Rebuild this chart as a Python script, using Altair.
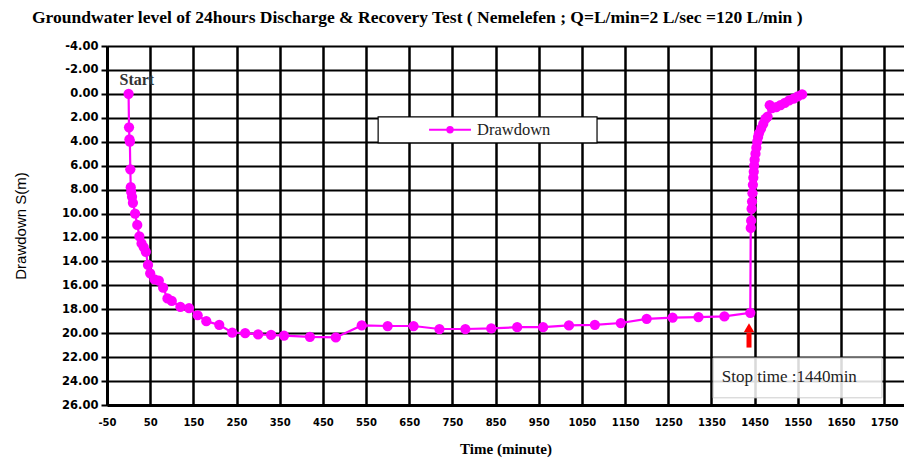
import altair as alt
import pandas as pd

# ---- data ----
TIME_MIN = [0, 1, 2, 3, 4, 5, 6, 8, 10, 15, 20, 25, 30, 35, 40, 45, 50, 60, 70, 80, 90, 100,
            120, 140, 160, 180, 210, 240, 270, 300, 330, 360, 420, 480, 540, 600, 660, 720,
            780, 840, 900, 960, 1020, 1080, 1140, 1200, 1260, 1320, 1380, 1440,
            1441, 1442, 1443, 1444, 1445, 1446, 1447, 1448, 1449, 1450, 1452, 1454, 1456,
            1458, 1460, 1465, 1470, 1475, 1480, 1485, 1490, 1500, 1510, 1520, 1530, 1540,
            1550, 1560]
DRAWDOWN_M = [0.0, 2.8, 3.8, 4.0, 6.3, 7.8, 8.2, 8.6, 9.1, 10.0, 10.95, 11.9, 12.5, 12.8,
              13.2, 14.3, 15.0, 15.5, 15.6, 16.2, 17.1, 17.3, 17.8, 17.9, 18.5, 19.0, 19.3,
              19.95, 20.0, 20.1, 20.15, 20.2, 20.3, 20.35, 19.35, 19.4, 19.4, 19.65, 19.65,
              19.6, 19.5, 19.5, 19.35, 19.3, 19.15, 18.8, 18.7, 18.65, 18.6, 18.3,
              11.2, 10.6, 9.6, 9.0, 8.3, 7.6, 7.0, 6.5, 6.0, 5.5, 5.0, 4.5, 4.0,
              3.6, 3.3, 2.9, 2.5, 2.1, 1.9, 0.95, 1.2, 1.1, 0.95, 0.75, 0.55, 0.4,
              0.2, 0.05]
X_TICKS = list(range(-50, 1751, 100))
Y_TICKS = list(range(-4, 27, 2))

TITLE = "Groundwater level of 24hours Discharge & Recovery Test ( Nemelefen ; Q=L/min=2  L/sec =120 L/min )"
SERIES = "Drawdown"
START_LABEL = "Start"
STOP_LABEL = "Stop time :1440min"

# ---- annotation anchors (data units) ----
X_DOMAIN = [-50, 1796]
Y_DOMAIN = [-4, 26]
LEG_BOX = dict(t1=578, t2=1085, s1=1.93, s2=4.1)
LEG_LINE = dict(t1=696, t2=793, s=3.0, tdot=744.5, ttext=807)
START_POS = dict(t=-21, s=-1.15)
STOP_BOX = dict(t1=1354, t2=1745, s1=22.07, s2=25.4, ttext=1374, stext=23.7)
ARROW = dict(t=1437, s_tail=21.2, s_head=19.95, s_tip=19.55)

MAGENTA = "#FF00FF"

df = pd.DataFrame({"t": TIME_MIN, "s": DRAWDOWN_M})


def X(field="t"):
    return alt.X(
        f"{field}:Q",
        scale=alt.Scale(domain=X_DOMAIN, nice=False, zero=False),
        axis=alt.Axis(
            values=X_TICKS, title="Time (minute)", grid=True, gridColor="black",
            gridWidth=2.5, gridOpacity=1, domainColor="black", domainWidth=3,
            ticks=False, labelPadding=12, labelFont="DejaVu Sans", labelFontWeight="bold",
            labelFontSize=10, labelColor="black", labelFlush=False,
            labelExpr="replace(format(datum.value, 'd'), '\u2212', '-')",
            titleFont="Liberation Serif", titleFontSize=15, titleFontWeight="bold",
            titleColor="black", titlePadding=14,
        ),
    )


def Y(field="s"):
    return alt.Y(
        f"{field}:Q",
        scale=alt.Scale(domain=Y_DOMAIN, nice=False, zero=False, reverse=True),
        axis=alt.Axis(
            values=Y_TICKS, title="Drawdown  S(m)", grid=True,
            gridColor="black", gridWidth=2, gridOpacity=1, domainColor="black",
            domainWidth=3, ticks=True, tickSize=6, tickColor="black", tickWidth=2,
            labelPadding=3, labelFont="DejaVu Sans", labelFontWeight="bold",
            labelFontSize=11.5, labelColor="black", labelFlush=False,
            labelExpr="replace(format(datum.value, '.2f'), '\u2212', '-')",
            titleFont="Liberation Sans", titleFontSize=15, titleFontWeight="normal",
            titleColor="black", titlePadding=33,
        ),
    )


line = alt.Chart(df).mark_line(color=MAGENTA, strokeWidth=2.2).encode(x=X(), y=Y(), order="t:Q")
pts = alt.Chart(df).mark_circle(color=MAGENTA, size=105, opacity=1).encode(x=X(), y=Y())

leg_box = alt.Chart(pd.DataFrame([LEG_BOX])).mark_rect(
    fill="white", stroke="black", strokeWidth=1.2
).encode(x=X("t1"), x2="t2:Q", y=Y("s1"), y2="s2:Q")
leg_line = alt.Chart(pd.DataFrame([LEG_LINE])).mark_rule(color=MAGENTA, strokeWidth=2).encode(
    x=X("t1"), x2="t2:Q", y=Y("s"))
leg_dot = alt.Chart(pd.DataFrame([LEG_LINE])).mark_circle(color=MAGENTA, size=55, opacity=1).encode(
    x=X("tdot"), y=Y("s"))
leg_text = alt.Chart(pd.DataFrame([{**LEG_LINE, "label": SERIES}])).mark_text(
    align="left", baseline="middle", font="Liberation Serif", fontSize=16.5, color="#222"
).encode(x=X("ttext"), y=Y("s"), text="label:N")

start_text = alt.Chart(pd.DataFrame([{**START_POS, "label": START_LABEL}])).mark_text(
    align="left", baseline="middle", font="Liberation Serif", fontSize=16, fontWeight="bold",
    color="#333"
).encode(x=X("t"), y=Y("s"), text="label:N")

stop_box = alt.Chart(pd.DataFrame([STOP_BOX])).mark_rect(
    fill="white", fillOpacity=0.85, stroke="#cccccc", strokeWidth=1
).encode(x=X("t1"), x2="t2:Q", y=Y("s1"), y2="s2:Q")
stop_text = alt.Chart(pd.DataFrame([{**STOP_BOX, "label": STOP_LABEL}])).mark_text(
    align="left", baseline="middle", font="Liberation Serif", fontSize=17, color="#222"
).encode(x=X("ttext"), y=Y("stext"), text="label:N")

arrow_shaft = alt.Chart(pd.DataFrame([ARROW])).mark_rule(color="red", strokeWidth=5).encode(
    x=X("t"), y=Y("s_tail"), y2="s_head:Q")
arrow_head = alt.Chart(pd.DataFrame([ARROW])).mark_point(
    shape="triangle-up", filled=True, color="red", size=110, opacity=1
).encode(x=X("t"), y=Y("s_tip"))

chart = alt.layer(
    line, pts, leg_box, leg_line, leg_dot, leg_text, start_text, stop_box, stop_text,
    arrow_shaft, arrow_head
).properties(
    width=797, height=359,
    title=alt.TitleParams(
        TITLE, anchor="start", frame="group", font="Liberation Serif", fontSize=17.5,
        fontWeight="bold", color="black", dx=-75, offset=14,
    ),
    autosize=alt.AutoSizeParams(type="none"),
    padding={"left": 107, "top": 46, "right": 0, "bottom": 53},
).configure_view(stroke=None).configure(background="white")

chart.save("out.html", embed_options={"renderer": "svg", "actions": False})
